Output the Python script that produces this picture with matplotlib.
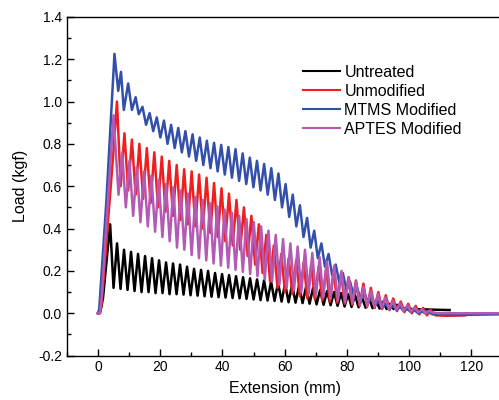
import numpy as np
import matplotlib
matplotlib.use("Agg")
import matplotlib.pyplot as plt
from matplotlib.ticker import MultipleLocator

plt.rcParams['font.family'] = ['Liberation Sans', 'DejaVu Sans']

labels = ["Untreated", "Unmodified", "MTMS Modified", "APTES Modified"]
colors = ["#000000", "#f01e1e", "#3250aa", "#b45ab4"]

# Untreated (black): loading ramp, then alternating trough/peak values
black_head_x = [0, 0.8, 1.6, 3.9]
black_head_y = [0, 0.01, 0.07, 0.42]
black_start, black_period = 5.0, 2.25
black_troughs = [0.12, 0.115, 0.11, 0.105, 0.10, 0.10, 0.095, 0.095, 0.09, 0.09,
                 0.088, 0.085, 0.083, 0.08, 0.078, 0.076, 0.074, 0.072, 0.07, 0.068,
                 0.065, 0.062, 0.06, 0.058, 0.055, 0.052, 0.05, 0.048, 0.045, 0.042,
                 0.04, 0.038, 0.035, 0.032, 0.03, 0.028, 0.026, 0.024, 0.022, 0.02, 0.02]
black_peaks = [0.33, 0.30, 0.29, 0.28, 0.27, 0.26, 0.25, 0.24, 0.235, 0.23,
               0.22, 0.21, 0.205, 0.20, 0.19, 0.185, 0.18, 0.175, 0.17, 0.165,
               0.16, 0.155, 0.15, 0.145, 0.14, 0.135, 0.13, 0.125, 0.12, 0.11,
               0.105, 0.10, 0.095, 0.09, 0.085, 0.075, 0.07, 0.06, 0.055, 0.045, 0.04]
black_tail_x = [98, 100, 105, 113]
black_tail_y = [0.025, 0.02, 0.018, 0.015]

# Unmodified (red)
red_head_x = [0, 0.7, 1.2, 5.0, 6.1]
red_head_y = [0, 0.0, 0.05, 0.77, 1.0]
red_start, red_period = 7.3, 2.4
red_troughs = [0.60, 0.58, 0.56, 0.54, 0.52, 0.50, 0.48, 0.46, 0.44, 0.42,
               0.41, 0.40, 0.38, 0.36, 0.34, 0.32, 0.30, 0.27, 0.23, 0.19,
               0.15, 0.12, 0.10, 0.09, 0.08, 0.07, 0.065, 0.06, 0.055, 0.05,
               0.045, 0.04, 0.035, 0.03, 0.025, 0.02, 0.015, 0.01, 0.005, 0.0,
               -0.005, -0.01]
red_peaks = [0.85, 0.82, 0.80, 0.78, 0.76, 0.74, 0.72, 0.70, 0.68, 0.67,
             0.655, 0.64, 0.615, 0.59, 0.565, 0.535, 0.50, 0.46, 0.42, 0.37,
             0.32, 0.28, 0.26, 0.25, 0.24, 0.23, 0.22, 0.21, 0.20, 0.19,
             0.17, 0.155, 0.14, 0.12, 0.10, 0.085, 0.07, 0.055, 0.045, 0.035,
             0.025, 0.015]
red_tail_x = [108.5, 112, 118]
red_tail_y = [-0.01, -0.012, -0.01]

# MTMS Modified (blue): irregular first wiggles, then alternating peak/trough values
blue_head_x = [0, 0.4, 2.7, 5.3, 6.5, 7.4, 8.3, 9.7, 10.9, 12.1, 13.1]
blue_head_y = [0, 0.02, 0.53, 1.225, 1.05, 1.14, 0.96, 1.085, 0.96, 1.02, 0.94]
blue_start, blue_period = 14.3, 2.3
blue_peaks = [0.975, 0.945, 0.925, 0.91, 0.89, 0.875, 0.86, 0.845, 0.83, 0.815,
              0.805, 0.795, 0.785, 0.775, 0.755, 0.735, 0.72, 0.705, 0.685, 0.66,
              0.61, 0.56, 0.51, 0.45, 0.39, 0.33, 0.28, 0.23, 0.19, 0.15,
              0.12, 0.095, 0.075, 0.06, 0.045, 0.035, 0.03, 0.02, 0.015, 0.01, 0.005]
blue_troughs = [0.89, 0.86, 0.83, 0.80, 0.78, 0.76, 0.74, 0.72, 0.70, 0.685,
                0.67, 0.655, 0.64, 0.625, 0.61, 0.595, 0.58, 0.56, 0.535, 0.50,
                0.455, 0.41, 0.36, 0.31, 0.26, 0.22, 0.18, 0.145, 0.11, 0.085,
                0.065, 0.05, 0.035, 0.025, 0.02, 0.015, 0.01, 0.005, 0.0, 0.0, -0.005]
blue_tail_x = [108, 115, 130]
blue_tail_y = [-0.005, -0.008, -0.005]

# APTES Modified (purple)
purple_head_x = [0, 0.6, 1.2, 5.0]
purple_head_y = [0, 0.0, 0.08, 0.935]
purple_start, purple_period = 6.6, 2.35
purple_troughs = [0.56, 0.50, 0.46, 0.43, 0.41, 0.385, 0.36, 0.34, 0.31, 0.30,
                  0.275, 0.26, 0.25, 0.235, 0.225, 0.215, 0.205, 0.195, 0.185, 0.175,
                  0.16, 0.15, 0.135, 0.12, 0.11, 0.10, 0.09, 0.082, 0.075, 0.068,
                  0.06, 0.053, 0.047, 0.04, 0.035, 0.03, 0.025, 0.02, 0.015, 0.01,
                  0.007, 0.004, 0.0]
purple_peaks = [0.76, 0.72, 0.69, 0.67, 0.65, 0.63, 0.61, 0.595, 0.58, 0.565,
                0.55, 0.535, 0.52, 0.505, 0.49, 0.475, 0.46, 0.445, 0.43, 0.41,
                0.39, 0.37, 0.35, 0.33, 0.315, 0.30, 0.285, 0.265, 0.245, 0.225,
                0.20, 0.17, 0.15, 0.125, 0.105, 0.09, 0.075, 0.06, 0.048, 0.038,
                0.028, 0.02, 0.012]
purple_tail_x = [107.5, 110, 130]
purple_tail_y = [0.003, 0.0, 0.0]


def build(head_x, head_y, start, period, first, second, tail_x, tail_y):
    # extrema alternate every half period: first, second, first, second ...
    n = len(first)
    ex = start + np.arange(2 * n) * period / 2
    ey = np.empty(2 * n)
    ey[0::2] = first
    ey[1::2] = second
    x = np.concatenate([head_x, ex, tail_x])
    y = np.concatenate([head_y, ey, tail_y])
    return x, y


curves = [
    build(black_head_x, black_head_y, black_start, black_period,
          black_troughs, black_peaks, black_tail_x, black_tail_y),
    build(red_head_x, red_head_y, red_start, red_period,
          red_troughs, red_peaks, red_tail_x, red_tail_y),
    build(blue_head_x, blue_head_y, blue_start, blue_period,
          blue_peaks, blue_troughs, blue_tail_x, blue_tail_y),
    build(purple_head_x, purple_head_y, purple_start, purple_period,
          purple_troughs, purple_peaks, purple_tail_x, purple_tail_y),
]

fig = plt.figure(figsize=(4.99, 4.0), dpi=100)
ax = fig.add_axes([0.134, 0.111, 0.873, 0.847])

for (x, y), c, lab in zip(curves, colors, labels):
    ax.plot(x, y, color=c, lw=1.8, label=lab, solid_joinstyle='round')

ax.set_xlim(-10, 130)
ax.set_ylim(-0.2, 1.4)
ax.xaxis.set_major_locator(MultipleLocator(20))
ax.xaxis.set_minor_locator(MultipleLocator(10))
ax.yaxis.set_major_locator(MultipleLocator(0.2))
ax.yaxis.set_minor_locator(MultipleLocator(0.1))
ax.yaxis.set_major_formatter(matplotlib.ticker.FormatStrFormatter('%.1f'))
ax.tick_params(which='both', direction='in', top=False, right=False, labelsize=10)
ax.tick_params(which='major', length=5, width=1)
ax.tick_params(which='minor', length=3, width=1)
for s in ax.spines.values():
    s.set_linewidth(1.0)
ax.spines['right'].set_visible(False)

ax.set_xlabel("Extension (mm)", fontsize=11.5, labelpad=5)
ax.set_ylabel("Load (kgf)", fontsize=11.5, labelpad=7)

leg = ax.legend(loc='upper left', bbox_to_anchor=(0.607, 0.838),
                bbox_transform=fig.transFigure, frameon=False, fontsize=11.5,
                handlelength=2.3, handletextpad=0.3, labelspacing=0.25,
                borderpad=0, borderaxespad=0)
for h in leg.get_lines():
    h.set_linewidth(1.5)

fig.savefig("out.png", dpi=100)
